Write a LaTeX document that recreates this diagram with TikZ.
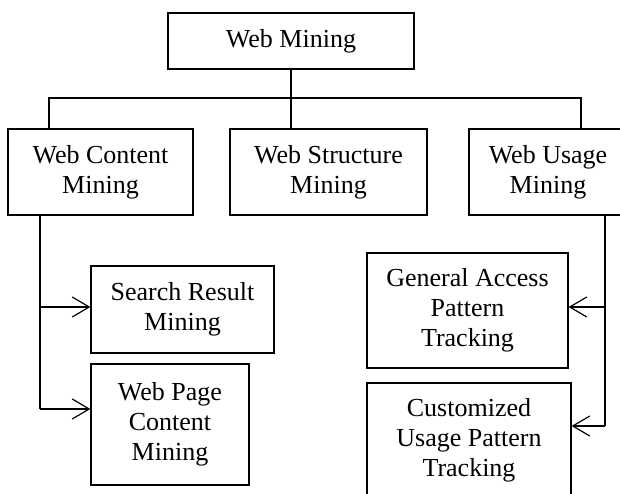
\documentclass[tikz,border=0pt]{standalone}
\usepackage{fontspec}
\setmainfont{Liberation Serif}
\usetikzlibrary{positioning,calc,arrows.meta}

\begin{document}
\begin{tikzpicture}[x=1pt,y=1pt,
    minebox/.style={draw, line width=1.2pt, align=center, inner sep=0pt,
        font={\fontsize{26}{30}\selectfont}},
    wire/.style={line width=1.2pt},
    arr/.style={wire, -{Straight Barb[length=17pt,width=20pt,line width=1.2pt]}}]
    \useasboundingbox (0,0) rectangle (620,494);
    \clip (0,0) rectangle (620,494);

    % Top
    \node[minebox, minimum width=246, minimum height=56] (root) at (291,453) {Web Mining};

    % Second level
    \node[minebox, minimum width=185, minimum height=86] (content) at (100.5,322) {Web Content\\Mining};
    \node[minebox, minimum width=197, minimum height=86] (structure) at (328.5,322) {Web Structure\\Mining};
    \node[minebox, minimum width=158, minimum height=86] (usage) at (548,322) {Web Usage\\Mining};

    % Third level
    \node[minebox, minimum width=183, minimum height=87] (search) at (182.5,184.5) {Search Result\\Mining};
    \node[minebox, minimum width=158, minimum height=121] (webpage) at (170,69.5) {Web Page\\Content\\Mining};
    \node[minebox, minimum width=201, minimum height=115] (general) at (467.5,183.5) {General Access\\Pattern\\Tracking};
    \node[minebox, minimum width=204, minimum height=114] (custom) at (469,54) {Customized\\Usage Pattern\\Tracking};

    % Bus below the root
    \coordinate (busL) at (49,396);
    \coordinate (busR) at (581,396);
    \draw[wire] (root.south) -- (root.south |- structure.north);
    \draw[wire] (busL |- content.north) -- (busL) -- (busR) -- (busR |- usage.north);

    % Left rail
    \coordinate (l1) at (40,187);
    \coordinate (l2) at (40,85);
    \draw[wire] (l2 |- content.south) -- (l2);
    \draw[arr] (l1) -- (l1 -| search.west);
    \draw[arr] (l2) -- (l2 -| webpage.west);

    % Right rail
    \coordinate (r1) at (605,187);
    \coordinate (r2) at (605,68);
    \draw[wire] (r2 |- usage.south) -- (r2);
    \draw[arr] (r1) -- (r1 -| general.east);
    \draw[arr] (r2) -- (r2 -| custom.east);
\end{tikzpicture}
\end{document}
